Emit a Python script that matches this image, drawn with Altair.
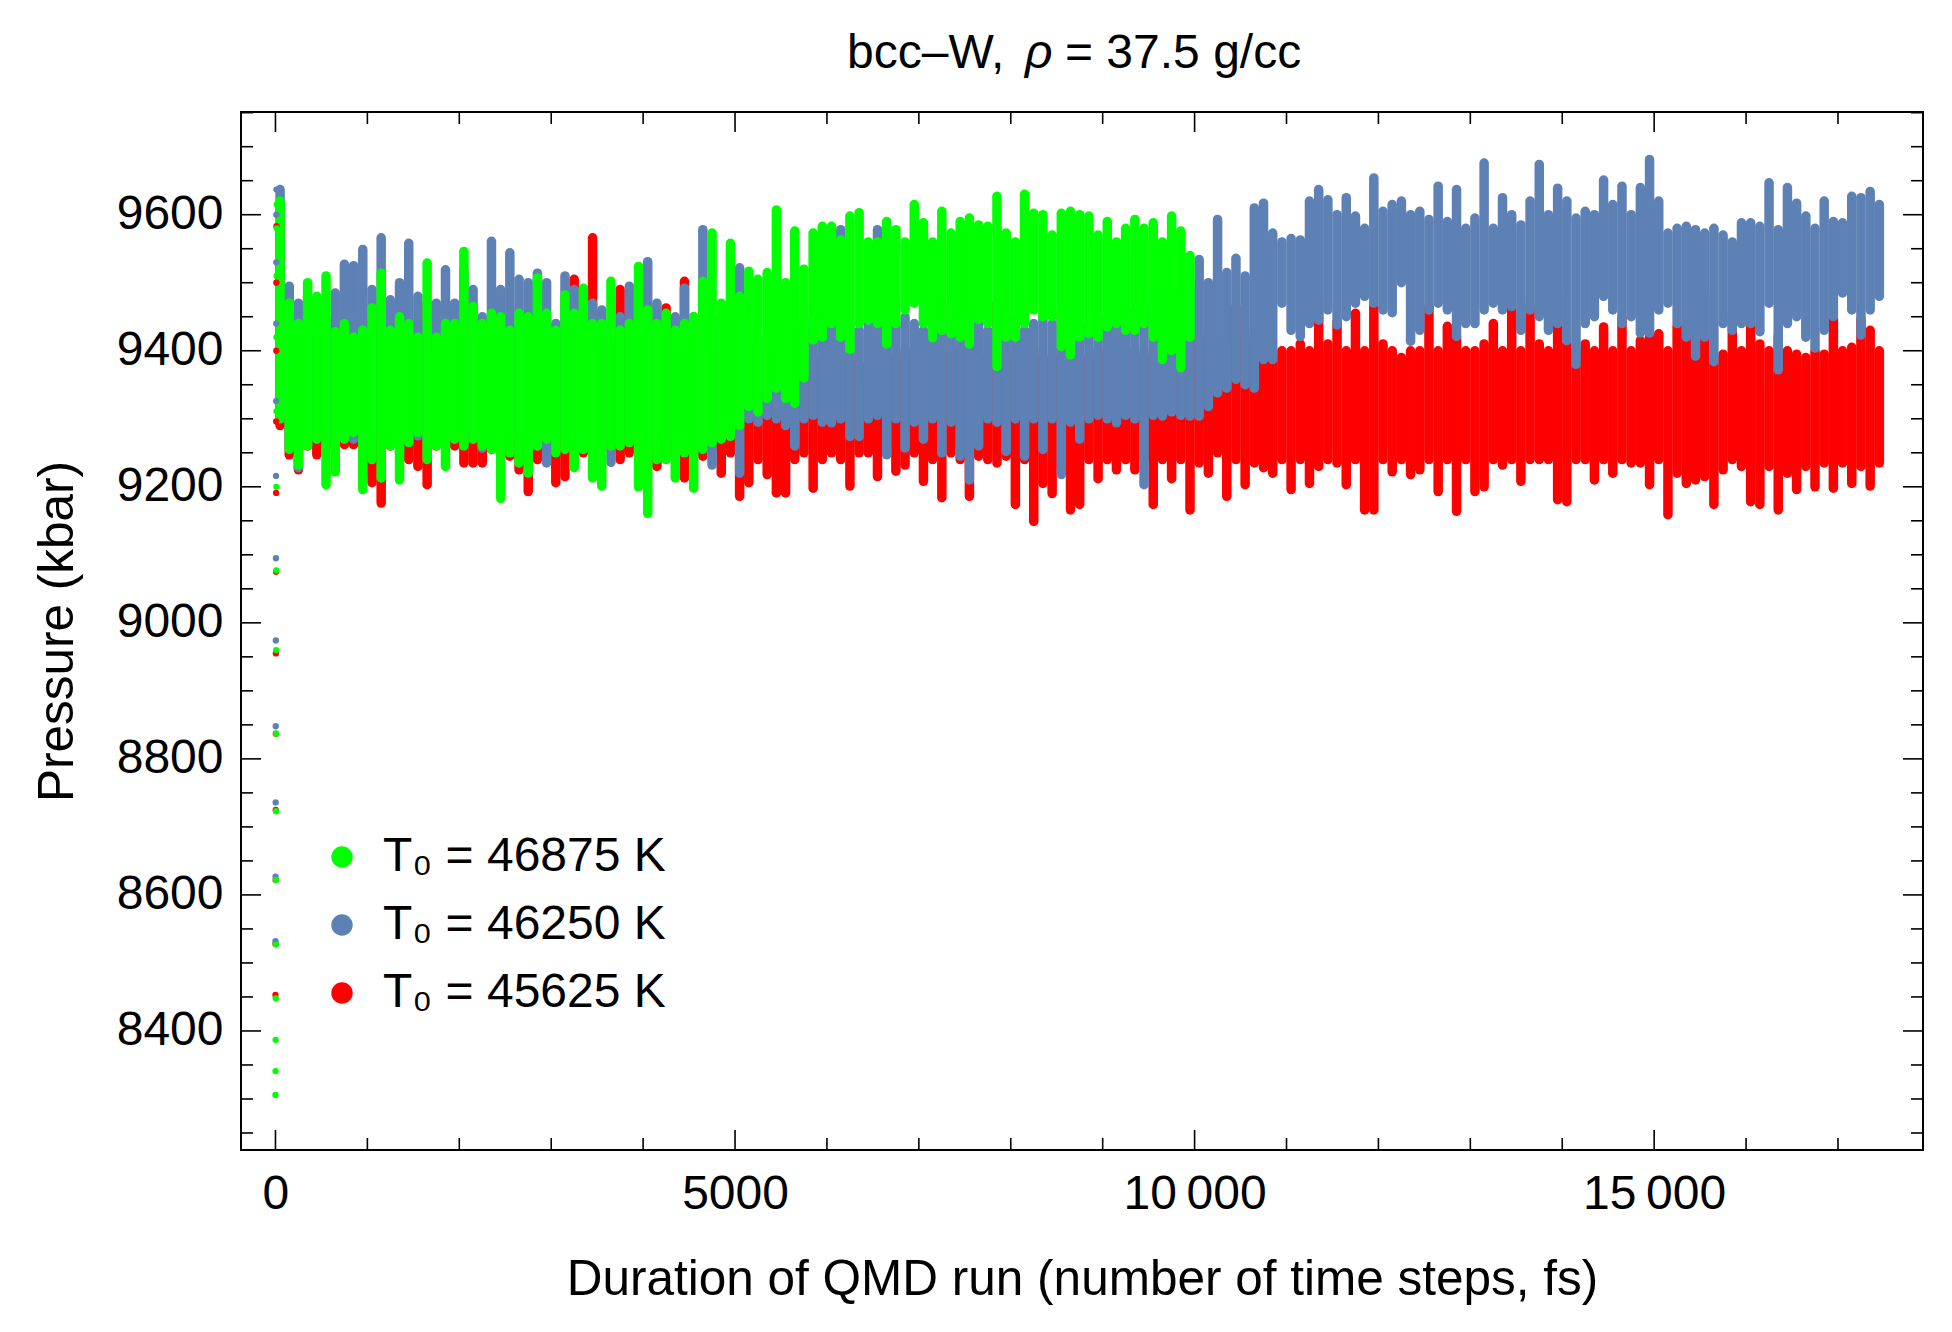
import altair as alt
import pandas as pd

# ---------------- text ----------------
title_parts = ["bcc\u2013W,", "\u03c1", "= 37.5 g/cc"]
x_title = "Duration of QMD run (number of time steps, fs)"
y_title = "Pressure (kbar)"
series_labels = ["T\u2080 = 46875 K", "T\u2080 = 46250 K", "T\u2080 = 45625 K"]
series_colors = ["#00ff00", "#5e81b5", "#ff0000"]

# ---------------- axes ----------------
x_major = [0, 5000, 10000, 15000]
x_minor = [1000, 2000, 3000, 4000, 6000, 7000, 8000, 9000, 11000, 12000, 13000, 14000, 16000, 17000]
y_major = [8400, 8600, 8800, 9000, 9200, 9400, 9600]
y_minor = [8250, 8300, 8350, 8450, 8500, 8550, 8650, 8700, 8750, 8850, 8900, 8950,
           9050, 9100, 9150, 9250, 9300, 9350, 9450, 9500, 9550, 9650, 9700, 9750]

# ---------------- data: pressure envelope per 100 fs window ----------------
bin_width = 100

green_hi = [
    9620, 9470, 9440, 9500, 9480, 9510, 9428, 9440, 9420, 9430,
    9463, 9514, 9430, 9450, 9440, 9420, 9529, 9420, 9440, 9440,
    9546, 9465, 9440, 9455, 9450, 9430, 9455, 9450, 9507, 9455,
    9430, 9482, 9455, 9492, 9440, 9440, 9502, 9430, 9440, 9524,
    9460, 9440, 9455, 9430, 9440, 9450, 9502, 9573, 9470, 9558,
    9480, 9517, 9505, 9515, 9607, 9500, 9576, 9520, 9573, 9583,
    9583, 9563, 9598, 9603, 9560, 9560, 9590, 9578, 9560, 9615,
    9588, 9560, 9605, 9573, 9590, 9595, 9585, 9583, 9627, 9573,
    9560, 9630, 9602, 9600, 9570, 9602, 9605, 9600, 9598, 9570,
    9590, 9560, 9580, 9593, 9580, 9588, 9560, 9598, 9576, 9540]
green_lo = [
    9300, 9255, 9232, 9260, 9270, 9203, 9222, 9270, 9280, 9196,
    9240, 9213, 9260, 9210, 9265, 9280, 9240, 9260, 9230, 9270,
    9260, 9270, 9260, 9255, 9183, 9250, 9235, 9220, 9260, 9270,
    9250, 9255, 9228, 9255, 9213, 9201, 9260, 9260, 9265, 9200,
    9161, 9240, 9240, 9213, 9250, 9198, 9255, 9265, 9270, 9274,
    9290, 9318, 9310, 9330, 9345, 9330, 9323, 9360, 9416, 9420,
    9440, 9420, 9402, 9440, 9445, 9440, 9410, 9440, 9460, 9470,
    9440, 9419, 9430, 9425, 9420, 9410, 9446, 9440, 9377, 9420,
    9420, 9440, 9460, 9450, 9450, 9406, 9394, 9420, 9425, 9420,
    9435, 9440, 9430, 9430, 9440, 9420, 9387, 9400, 9375, 9420]

blue_hi = [
    9637, 9495, 9470, 9430, 9440, 9450, 9485, 9527, 9525, 9549,
    9490, 9566, 9475, 9500, 9558, 9480, 9440, 9470, 9519, 9470,
    9519, 9490, 9450, 9561, 9490, 9544, 9505, 9500, 9514, 9500,
    9440, 9510, 9490, 9450, 9470, 9460, 9440, 9450, 9495, 9470,
    9531, 9470, 9440, 9450, 9492, 9450, 9578, 9450, 9440, 9460,
    9522, 9440, 9420, 9420, 9420, 9430, 9430, 9440, 9450, 9430,
    9440, 9578, 9440, 9430, 9440, 9578, 9440, 9440, 9450, 9440,
    9430, 9440, 9450, 9440, 9440, 9450, 9440, 9430, 9440, 9450,
    9440, 9430, 9440, 9450, 9440, 9450, 9440, 9440, 9440, 9450,
    9440, 9440, 9450, 9460, 9470, 9490, 9480, 9490, 9470, 9500,
    9534, 9500, 9593, 9515, 9536, 9510, 9610, 9617, 9573, 9560,
    9565, 9563, 9620, 9637, 9622, 9600, 9625, 9598, 9580, 9654,
    9605, 9615, 9620, 9600, 9605, 9593, 9642, 9590, 9637, 9580,
    9595, 9676, 9580, 9625, 9600, 9585, 9620, 9674, 9600, 9639,
    9620, 9595, 9605, 9600, 9651, 9615, 9642, 9600, 9640, 9681,
    9620, 9573, 9580, 9583, 9578, 9573, 9580, 9570, 9560, 9588,
    9588, 9583, 9647, 9578, 9640, 9617, 9598, 9580, 9620, 9590,
    9588, 9627, 9625, 9634, 9615]
blue_lo = [
    9310, 9260, 9228, 9270, 9280, 9270, 9275, 9280, 9270, 9275,
    9270, 9280, 9270, 9250, 9270, 9275, 9270, 9270, 9275, 9270,
    9280, 9270, 9257, 9275, 9270, 9275, 9270, 9270, 9260, 9235,
    9270, 9270, 9232, 9270, 9275, 9270, 9236, 9270, 9275, 9270,
    9270, 9265, 9270, 9260, 9265, 9250, 9260, 9232, 9300, 9290,
    9220, 9300, 9295, 9305, 9300, 9290, 9260, 9300, 9305, 9295,
    9294, 9300, 9274, 9274, 9300, 9305, 9247, 9300, 9257, 9295,
    9270, 9300, 9250, 9295, 9245, 9210, 9260, 9300, 9295, 9252,
    9300, 9245, 9300, 9255, 9300, 9218, 9295, 9270, 9300, 9305,
    9300, 9294, 9305, 9300, 9203, 9305, 9304, 9310, 9305, 9304,
    9304, 9318, 9338, 9345, 9358, 9350, 9345, 9387, 9387, 9470,
    9430, 9421, 9440, 9445, 9460, 9438, 9450, 9470, 9480, 9470,
    9460, 9456, 9500, 9414, 9430, 9460, 9470, 9460, 9421, 9440,
    9440, 9460, 9470, 9460, 9465, 9430, 9460, 9450, 9430, 9440,
    9415, 9380, 9440, 9450, 9480, 9460, 9440, 9450, 9426, 9426,
    9460, 9470, 9440, 9420, 9392, 9420, 9384, 9440, 9430, 9440,
    9440, 9428, 9470, 9372, 9440, 9450, 9420, 9404, 9430, 9450,
    9485, 9460, 9423, 9460, 9480]

red_hi = [
    9583, 9450, 9420, 9480, 9420, 9430, 9420, 9410, 9420, 9446,
    9420, 9430, 9420, 9420, 9430, 9440, 9470, 9420, 9420, 9420,
    9478, 9450, 9420, 9420, 9420, 9430, 9420, 9420, 9430, 9410,
    9420, 9420, 9505, 9430, 9566, 9440, 9420, 9490, 9420, 9410,
    9420, 9420, 9463, 9420, 9502, 9420, 9410, 9400, 9400, 9390,
    9390, 9400, 9390, 9400, 9446, 9390, 9400, 9380, 9390, 9380,
    9390, 9390, 9392, 9380, 9350, 9360, 9400, 9390, 9400, 9390,
    9400, 9390, 9470, 9400, 9450, 9390, 9390, 9390, 9470, 9390,
    9400, 9390, 9400, 9390, 9390, 9460, 9400, 9390, 9390, 9400,
    9390, 9460, 9390, 9400, 9390, 9400, 9400, 9410, 9400, 9410,
    9420, 9420, 9410, 9416, 9465, 9420, 9410, 9400, 9390, 9400,
    9400, 9410, 9400, 9473, 9410, 9443, 9400, 9455, 9400, 9465,
    9410, 9400, 9390, 9400, 9400, 9465, 9400, 9436, 9420, 9400,
    9400, 9410, 9440, 9400, 9465, 9400, 9465, 9410, 9400, 9485,
    9410, 9400, 9410, 9400, 9435, 9400, 9448, 9400, 9415, 9420,
    9425, 9400, 9436, 9426, 9400, 9482, 9390, 9395, 9453, 9400,
    9440, 9410, 9400, 9421, 9400, 9395, 9390, 9400, 9395, 9448,
    9400, 9405, 9446, 9430, 9400]
red_lo = [
    9290, 9247, 9225, 9260, 9247, 9260, 9257, 9262, 9262, 9220,
    9206, 9176, 9260, 9260, 9240, 9230, 9203, 9260, 9262, 9260,
    9235, 9235, 9235, 9255, 9260, 9245, 9225, 9193, 9240, 9250,
    9206, 9215, 9240, 9250, 9255, 9260, 9255, 9240, 9250, 9255,
    9255, 9230, 9250, 9245, 9213, 9250, 9245, 9255, 9220, 9250,
    9186, 9206, 9240, 9218, 9191, 9191, 9240, 9250, 9198, 9240,
    9250, 9240, 9201, 9250, 9250, 9215, 9250, 9223, 9232, 9250,
    9208, 9240, 9184, 9250, 9240, 9186, 9245, 9240, 9235, 9245,
    9174, 9240, 9149, 9205, 9190, 9230, 9166, 9174, 9240, 9212,
    9240, 9225, 9240, 9225, 9240, 9174, 9240, 9212, 9240, 9166,
    9235, 9220, 9250, 9186, 9240, 9203, 9235, 9228, 9220, 9240,
    9196, 9240, 9205, 9230, 9240, 9235, 9203, 9240, 9166, 9166,
    9240, 9222, 9240, 9218, 9225, 9240, 9193, 9240, 9164, 9240,
    9193, 9200, 9240, 9232, 9240, 9208, 9240, 9240, 9240, 9181,
    9178, 9240, 9240, 9210, 9240, 9220, 9240, 9235, 9235, 9203,
    9240, 9159, 9220, 9205, 9210, 9215, 9174, 9225, 9240, 9230,
    9178, 9174, 9230, 9166, 9220, 9196, 9230, 9200, 9235, 9198,
    9235, 9205, 9230, 9201, 9235]

# first time steps (equilibration start), one value per step
green_start = [8306, 8341, 8387, 8448, 8527, 8622, 8723, 8837, 8960, 9077,
               9200, 9311, 9420, 9510, 9580, 9615]
blue_start = [8532, 8627, 8736, 8848, 8974, 9095, 9216, 9326, 9440, 9530, 9600, 9637]
red_start = [8453, 8528, 8622, 8725, 8837, 8955, 9075, 9191, 9296, 9400, 9500, 9583]


def band_frame(lo, hi):
    return pd.DataFrame({
        "t": [bin_width * k + bin_width / 2 for k in range(len(lo))],
        "lo": lo,
        "hi": hi,
    })


W, H = 1682, 1038
FONT = "Liberation Sans"

x_scale = alt.Scale(domain=[-375, 17925], nice=False, zero=False)
y_scale = alt.Scale(domain=[8225, 9751], nice=False, zero=False)

x_axis = alt.Axis(
    values=x_major,
    labelExpr="datum.value >= 10000 ? replace(format(datum.value, ','), ',', '\u2009') : format(datum.value, 'd')",
    labelFontSize=48, labelFont=FONT, labelColor="black", labelPadding=20,
    labelFlush=False, labelOverlap=False,
    ticks=False, tickSize=0, domain=False, grid=False,
    title=x_title, titleFont=FONT, titleFontSize=49.5, titleFontWeight="normal",
    titleColor="black", titleX=841, titleY=144, titleAlign="center",
    titleBaseline="alphabetic", titleAngle=0,
)
y_axis = alt.Axis(
    values=y_major, format="d",
    labelFontSize=48, labelFont=FONT, labelColor="black", labelPadding=18,
    labelFlush=False, labelOverlap=False,
    ticks=False, tickSize=0, domain=False, grid=False,
    title=y_title, titleFont=FONT, titleFontSize=49.5, titleFontWeight="normal",
    titleColor="black", titleX=-169, titleY=519, titleAngle=270,
    titleAlign="center", titleBaseline="alphabetic",
)


def xe(f):
    return alt.X(f, type="quantitative", scale=x_scale, axis=x_axis)


def ye(f):
    return alt.Y(f, type="quantitative", scale=y_scale, axis=y_axis)


def band(lo, hi, color):
    return alt.Chart(band_frame(lo, hi)).mark_rule(
        strokeWidth=9.5, strokeCap="round", color=color, opacity=1
    ).encode(x=xe("t"), y=ye("lo"), y2="hi")


red_band = band(red_lo, red_hi, series_colors[2])
blue_band = band(blue_lo, blue_hi, series_colors[1])
green_band = band(green_lo, green_hi, series_colors[0])

start_df = pd.concat([
    pd.DataFrame({"t": list(range(len(red_start))), "p": red_start, "series": series_labels[2]}),
    pd.DataFrame({"t": list(range(len(blue_start))), "p": blue_start, "series": series_labels[1]}),
    pd.DataFrame({"t": list(range(len(green_start))), "p": green_start, "series": series_labels[0]}),
])

start_pts = alt.Chart(start_df).mark_circle(size=40, opacity=1).encode(
    x=xe("t"), y=ye("p"),
    fill=alt.Fill("series:N",
                  scale=alt.Scale(domain=series_labels, range=series_colors),
                  legend=alt.Legend(
                      orient="none", legendX=77, legendY=721, padding=0,
                      title=None, symbolType="circle", symbolSize=460,
                      symbolStrokeWidth=0, symbolOpacity=1,
                      labelFontSize=48, labelFont=FONT, labelColor="black",
                      labelOffset=17, rowPadding=20, labelLimit=0,
                  )),
)

# frame ticks pointing inward
def yticks(vals, length, right=False):
    df = pd.DataFrame({"v": vals})
    if right:
        enc = dict(x=alt.value(W), x2=alt.value(W - length))
    else:
        enc = dict(x=alt.value(0), x2=alt.value(length))
    return alt.Chart(df).mark_rule(color="black", strokeWidth=1.6).encode(y=ye("v"), **enc)


def xticks(vals, length, top=False):
    df = pd.DataFrame({"v": vals})
    if top:
        enc = dict(y=alt.value(0), y2=alt.value(length))
    else:
        enc = dict(y=alt.value(H), y2=alt.value(H - length))
    return alt.Chart(df).mark_rule(color="black", strokeWidth=1.6).encode(x=xe("v"), **enc)


ticks = [
    yticks(y_major, 20), yticks(y_minor, 12),
    yticks(y_major, 20, right=True), yticks(y_minor, 12, right=True),
    xticks(x_major, 20), xticks(x_minor, 12),
    xticks(x_major, 20, top=True), xticks(x_minor, 12, top=True),
]

# title with italic rho
def title_text(txt, xpos, italic=False):
    return alt.Chart(pd.DataFrame({"s": [txt]})).mark_text(
        align="left", baseline="alphabetic", font=FONT, fontSize=48,
        fontStyle="italic" if italic else "normal", color="black",
    ).encode(text="s:N", x=alt.value(xpos), y=alt.value(-44))


title_layers = [
    title_text(title_parts[0], 606),
    title_text(title_parts[1], 784, italic=True),
    title_text(title_parts[2], 824),
]

chart = alt.layer(
    red_band, blue_band, green_band, start_pts, *ticks, *title_layers
).properties(
    width=W, height=H,
    autosize=alt.AutoSizeParams(type="none"),
    padding={"left": 233, "top": 104, "right": 21, "bottom": 174},
).configure(
    background="white"
).configure_view(
    stroke="black", strokeWidth=2
)

chart.save("out.html", embed_options={"renderer": "svg", "actions": False})
